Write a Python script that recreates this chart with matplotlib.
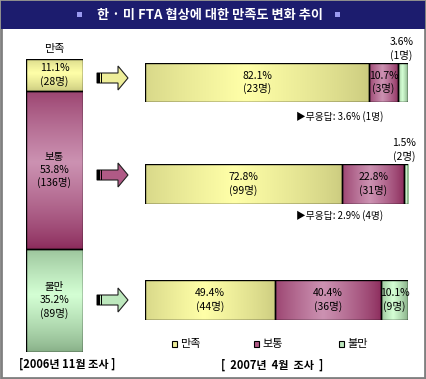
import numpy as np
import matplotlib
matplotlib.use('Agg')
import matplotlib.pyplot as plt
from matplotlib.patches import Rectangle, Polygon
from matplotlib.colors import to_rgb

plt.rcParams['font.family'] = ['Noto Sans CJK KR', 'DejaVu Sans']

# data
cats = ['만족', '보통', '불만']
nov_pct = [11.1, 53.8, 35.2]
nov_n = [28, 136, 89]
apr_pct = [[82.1, 10.7, 3.6], [72.8, 22.8, 1.5], [49.4, 40.4, 10.1]]
apr_n = [[23, 3, 1], [99, 31, 2], [44, 36, 9]]
no_answer = [(3.6, 1), (2.9, 4), None]

colors = ['#eeee99', '#b05a86', '#bde8bd']
light = ['#ffffa8', '#cc92b2', '#d4ffd4']
dark = ['#cccc80', '#8c2c5c', '#88b088']
W, H = 426, 379

fig = plt.figure(figsize=(W / 100, H / 100), dpi=100)


def box(x0, y0, x1, y1):
    return [x0 / W, 1 - y1 / H, (x1 - x0) / W, (y1 - y0) / H]


def shade(ax, bars, vertical):
    # fill each bar with a soft gradient, light in the middle
    t = np.linspace(0, 1, 64)
    prof = np.clip(1 - np.abs(t - 0.45) / 0.55, 0, 1) ** 0.8
    for rect, lc, dc in zip(bars, light, dark):
        lc, dc = np.array(to_rgb(lc)), np.array(to_rgb(dc))
        g = dc + (lc - dc) * prof[:, None]
        img = g[None, :, :] if vertical else g[:, None, :]
        x, y = rect.get_x(), rect.get_y()
        w, h = rect.get_width(), rect.get_height()
        im = ax.imshow(img, extent=(x, x + w, y + h, y) if not vertical else (x, x + w, y, y + h),
                       aspect='auto', zorder=1, interpolation='bilinear')
        im.set_clip_path(rect)


# background / decoration layer in pixel units
ax0 = fig.add_axes([0, 0, 1, 1])
ax0.set_xlim(0, W)
ax0.set_ylim(H, 0)
ax0.axis('off')
ax0.add_patch(Rectangle((1, 1), W - 2, H - 2, fc='white', ec='#808080', lw=2))
ax0.add_patch(Rectangle((1, 1), W - 2, 28, fc='#1c1c6e', ec='none'))
ax0.text(210, 15, '한 · 미 FTA 협상에 대한 만족도 변화 추이', color='white',
         fontsize=9.5, fontweight='bold', ha='center', va='center')
for xs in (77, 335):
    ax0.add_patch(Rectangle((xs, 12), 5, 5, fc='#9a9af0', ec='none'))

# arrows
for cy, c in zip([78, 175, 300], colors):
    x0 = 97
    pts = [(x0, cy - 5), (x0 + 21, cy - 5), (x0 + 21, cy - 12), (x0 + 31, cy),
           (x0 + 21, cy + 12), (x0 + 21, cy + 5), (x0, cy + 5)]
    ax0.add_patch(Polygon(pts, closed=True, fc=c, ec='#202020', lw=0.8))
    ax0.add_patch(Rectangle((x0, cy - 5), 2.5, 10, fc='black', ec='none'))
    ax0.add_patch(Rectangle((x0 + 3.5, cy - 5), 1, 10, fc='black', ec='none'))

ax0.text(54, 49, cats[0], fontsize=8, ha='center', va='center')
ax0.text(67, 364, '[2006년 11월 조사 ]', fontsize=8, fontweight='bold',
         ha='center', va='center')
ax0.text(272, 365, '[  2007년  4월  조사  ]', fontsize=8, fontweight='bold',
         ha='center', va='center')

# legend
for lx, c, lab in zip([172, 254, 339], colors, cats):
    ax0.add_patch(Rectangle((lx, 341), 5, 6, fc=c, ec='black', lw=0.8))
    ax0.text(lx + 8, 344, lab, fontsize=8, ha='left', va='center')

# no-answer notes
for (y, na) in zip([117, 216], no_answer):
    if na:
        ax0.text(296, y, '▶무응답: %.1f%% (%d명)' % na, fontsize=7,
                 ha='left', va='center')

# left stacked bar (2006.11)
axl = fig.add_axes(box(26, 59, 83, 352))
axl.patch.set_alpha(0)
bottoms = np.concatenate([[0], np.cumsum(nov_pct)[:-1]])
bars = axl.bar([0] * 3, nov_pct, bottom=bottoms, width=1, facecolor='none',
               edgecolor='black', linewidth=1, zorder=3)
shade(axl, bars, vertical=False)
axl.set_xlim(-0.5, 0.5)
axl.set_ylim(sum(nov_pct), 0)
axl.axis('off')
for i, (p, n, b) in enumerate(zip(nov_pct, nov_n, bottoms)):
    label = '%.1f%%\n(%d명)' % (p, n)
    if i > 0:
        label = cats[i] + '\n' + label
    axl.text(0, b + p / 2, label, fontsize=7.5, ha='center', va='center',
             linespacing=1.3, zorder=4)

# right stacked bars (2007.4)
rows = [(63, 102), (164, 204), (280, 320)]
for (y0, y1), pcts, ns in zip(rows, apr_pct, apr_n):
    ax = fig.add_axes(box(145, y0, 408, y1))
    ax.patch.set_alpha(0)
    lefts = np.concatenate([[0], np.cumsum(pcts)[:-1]])
    bars = ax.barh([0] * 3, pcts, left=lefts, height=1, facecolor='none',
                   edgecolor='black', linewidth=1, zorder=3)
    shade(ax, bars, vertical=True)
    ax.set_xlim(0, sum(pcts))
    ax.set_ylim(-0.5, 0.5)
    ax.axis('off')
    for i, (p, n, l) in enumerate(zip(pcts, ns, lefts)):
        label = '%.1f%%\n(%d명)' % (p, n)
        if p < 5:
            ax.text(l + p / 2 - 0.6, 0.55, label, fontsize=7.5, ha='center',
                    va='bottom', linespacing=1.3, clip_on=False, zorder=4)
        else:
            ax.text(l + p / 2, 0, label, fontsize=7.5, ha='center',
                    va='center', linespacing=1.3, zorder=4)

fig.savefig('out.png', dpi=100)
